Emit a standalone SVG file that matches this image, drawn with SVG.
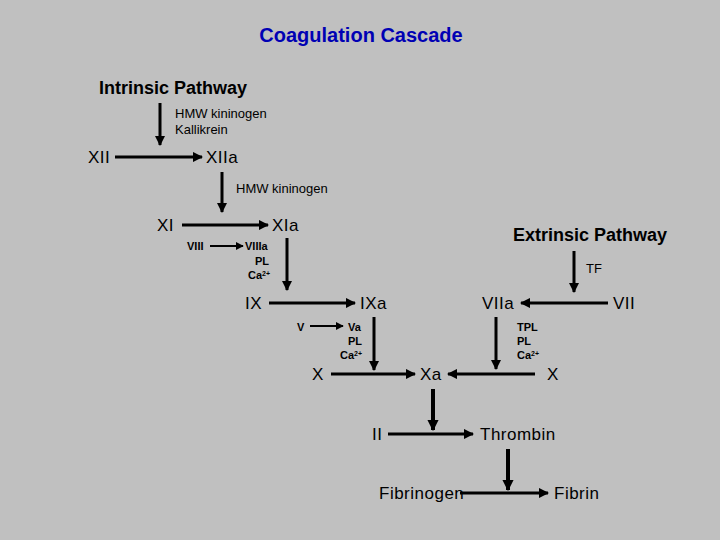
<svg xmlns="http://www.w3.org/2000/svg" width="720" height="540" viewBox="0 0 720 540">
<style>
text{font-family:"Liberation Sans",Arial,sans-serif;fill:#000}
.f{font-size:17px;letter-spacing:0.5px}
.h{font-size:18px;font-weight:bold}
.s{font-size:13px}
.b{font-size:11px;font-weight:bold}
.l{stroke:#000;stroke-width:3;fill:none}
.t{stroke:#000;stroke-width:2;fill:none}
.k{stroke:#000;stroke-width:4;fill:none}
</style>
<defs>
<marker id="a" viewBox="0 0 10 10" refX="9" refY="5" markerWidth="3.5" markerHeight="3.5" orient="auto" markerUnits="strokeWidth"><path d="M0,0L10,5L0,10z" fill="#000"/></marker>
<marker id="a2" viewBox="0 0 10 10" refX="9" refY="5" markerWidth="4" markerHeight="4" orient="auto" markerUnits="strokeWidth"><path d="M0,0L10,5L0,10z" fill="#000"/></marker>
<marker id="a3" viewBox="0 0 10 10" refX="9" refY="5" markerWidth="2.8" markerHeight="2.8" orient="auto" markerUnits="strokeWidth"><path d="M0,0L10,5L0,10z" fill="#000"/></marker>
</defs>
<rect width="720" height="540" fill="#c0c0c0"/>
<text x="361" y="42" text-anchor="middle" style="font-size:20px;font-weight:bold;fill:#0000b4">Coagulation Cascade</text>
<text x="99" y="94" class="h">Intrinsic Pathway</text>
<text x="513" y="241" class="h">Extrinsic Pathway</text>
<g id="connectors">
<line x1="160" y1="103" x2="160" y2="145" class="l" marker-end="url(#a)"/>
<line x1="115" y1="157" x2="202" y2="157" class="l" marker-end="url(#a)"/>
<line x1="222" y1="172" x2="222" y2="212" class="l" marker-end="url(#a)"/>
<line x1="182" y1="225" x2="268" y2="225" class="l" marker-end="url(#a)"/>
<line x1="210" y1="246" x2="243" y2="246" class="t" marker-end="url(#a2)"/>
<line x1="287" y1="238" x2="287" y2="290" class="l" marker-end="url(#a)"/>
<line x1="269" y1="303" x2="355" y2="303" class="l" marker-end="url(#a)"/>
<line x1="310" y1="326" x2="343" y2="326" class="t" marker-end="url(#a2)"/>
<line x1="374" y1="317" x2="374" y2="370" class="l" marker-end="url(#a)"/>
<line x1="331" y1="374" x2="415" y2="374" class="l" marker-end="url(#a)"/>
<line x1="574" y1="251" x2="574" y2="292" class="l" marker-end="url(#a)"/>
<line x1="608" y1="303" x2="521" y2="303" class="l" marker-end="url(#a)"/>
<line x1="496" y1="317" x2="496" y2="369" class="l" marker-end="url(#a)"/>
<line x1="535" y1="374" x2="448" y2="374" class="l" marker-end="url(#a)"/>
<line x1="433" y1="389" x2="433" y2="430" class="k" marker-end="url(#a3)"/>
<line x1="388" y1="434" x2="473" y2="434" class="l" marker-end="url(#a)"/>
<line x1="508" y1="449" x2="508" y2="490" class="k" marker-end="url(#a3)"/>
<line x1="460" y1="493" x2="548" y2="493" class="l" marker-end="url(#a)"/>
</g>
<g id="n-xii"><text x="88" y="163" class="f">XII</text></g>
<g id="n-xiia"><text x="206" y="163" class="f">XIIa</text></g>
<g id="l-hmw1"><text x="175" y="118" class="s">HMW kininogen</text><text x="175" y="134" class="s">Kallikrein</text></g>
<g id="l-hmw2"><text x="236" y="193" class="s">HMW kininogen</text></g>
<g id="n-xi"><text x="157" y="231" class="f">XI</text></g>
<g id="n-xia"><text x="272" y="231" class="f">XIa</text></g>
<g id="n-viii"><text x="187" y="250" class="b">VIII</text></g>
<g id="n-viiia"><text x="245" y="250" class="b">VIIIa</text><text x="255" y="265" class="b">PL</text><text x="248" y="279" class="b">Ca<tspan font-size="7" dy="-3">2+</tspan></text></g>
<g id="n-ix"><text x="245" y="309" class="f">IX</text></g>
<g id="n-ixa"><text x="360" y="309" class="f">IXa</text></g>
<g id="n-v"><text x="297" y="331" class="b">V</text></g>
<g id="n-va"><text x="348" y="331" class="b">Va</text><text x="348" y="345" class="b">PL</text><text x="340" y="359" class="b">Ca<tspan font-size="7" dy="-3">2+</tspan></text></g>
<g id="n-x1"><text x="312" y="380" class="f">X</text></g>
<g id="n-xa"><text x="420" y="380" class="f">Xa</text></g>
<g id="n-tf"><text x="586" y="273" class="s">TF</text></g>
<g id="n-viia"><text x="482" y="309" class="f">VIIa</text></g>
<g id="n-vii"><text x="613" y="309" class="f">VII</text></g>
<g id="n-tpl"><text x="517" y="331" class="b">TPL</text><text x="517" y="345" class="b">PL</text><text x="517" y="359" class="b">Ca<tspan font-size="7" dy="-3">2+</tspan></text></g>
<g id="n-x2"><text x="547" y="380" class="f">X</text></g>
<g id="n-ii"><text x="372" y="440" class="f">II</text></g>
<g id="n-thrombin"><text x="480" y="440" class="f">Thrombin</text></g>
<g id="n-fibrinogen"><text x="379" y="499" class="f">Fibrinogen</text></g>
<g id="n-fibrin"><text x="554" y="499" class="f">Fibrin</text></g>
</svg>
